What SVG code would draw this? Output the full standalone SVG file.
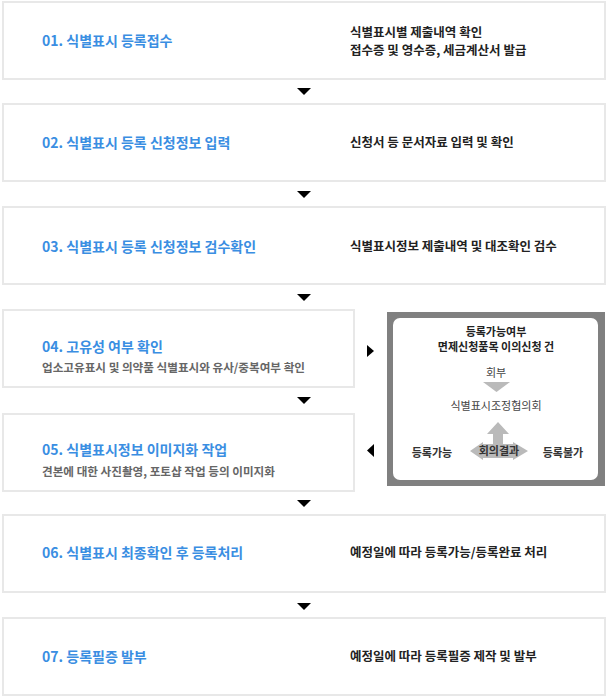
<svg xmlns="http://www.w3.org/2000/svg" width="608" height="699" viewBox="0 0 608 699">
<style>
.box{fill:#fff;stroke:#e8e8e8;stroke-width:2}
.t{font-family:"Noto Sans CJK KR","Liberation Sans",sans-serif;font-size:14px;font-weight:700;fill:#3a8ee2}
.d{font-family:"Noto Sans CJK KR","Liberation Sans",sans-serif;font-size:12.5px;font-weight:700;fill:#222}
.s{font-family:"Noto Sans CJK KR","Liberation Sans",sans-serif;font-size:11.6px;font-weight:700;fill:#666}
.p{font-family:"Noto Sans CJK KR","Liberation Sans",sans-serif;font-size:11px;font-weight:700;fill:#222;text-anchor:middle}
.pg{font-family:"Noto Sans CJK KR","Liberation Sans",sans-serif;font-size:11px;font-weight:400;fill:#444;text-anchor:middle}
.arr{fill:#000}
.ga{fill:#bababa}
</style>
<rect width="608" height="699" fill="#fff"/>
<g id="step1"><rect class="box" x="3" y="2" width="602" height="77"/><text class="t" x="42" y="46">01. 식별표시 등록접수</text><text class="d" x="350" y="37">식별표시별 제출내역 확인</text><text class="d" x="350" y="54.5">접수증 및 영수증, 세금계산서 발급</text></g>
<g id="step2"><rect class="box" x="3" y="104" width="602" height="77"/><text class="t" x="42" y="148">02. 식별표시 등록 신청정보 입력</text><text class="d" x="350" y="147">신청서 등 문서자료 입력 및 확인</text></g>
<g id="step3"><rect class="box" x="3" y="207" width="602" height="77"/><text class="t" x="42" y="252">03. 식별표시 등록 신청정보 검수확인</text><text class="d" x="350" y="251">식별표시정보 제출내역 및 대조확인 검수</text></g>
<g id="step4"><rect class="box" x="3" y="310" width="351" height="77"/><text class="t" x="42" y="352">04. 고유성 여부 확인</text><text class="s" x="42" y="372">업소고유표시 및 의약품 식별표시와 유사/중복여부 확인</text></g>
<g id="step5"><rect class="box" x="3" y="414" width="351" height="77"/><text class="t" x="42" y="455">05. 식별표시정보 이미지화 작업</text><text class="s" x="42" y="476">견본에 대한 사진촬영, 포토샵 작업 등의 이미지화</text></g>
<g id="step6"><rect class="box" x="3" y="515" width="602" height="77"/><text class="t" x="42" y="558">06. 식별표시 최종확인 후 등록처리</text><text class="d" x="350" y="557">예정일에 따라 등록가능/등록완료 처리</text></g>
<g id="step7"><rect class="box" x="3" y="618" width="602" height="77"/><text class="t" x="42" y="662">07. 등록필증 발부</text><text class="d" x="350" y="661">예정일에 따라 등록필증 제작 및 발부</text></g>
<g id="panel">
<rect x="387" y="312" width="218" height="174" fill="#808080"/>
<rect x="393" y="318" width="205" height="162" rx="7" fill="#fff"/>
<text class="p" x="496" y="336">등록가능여부</text>
<text class="p" x="496" y="351">면제신청품목 이의신청 건</text>
<text class="pg" x="496" y="377">회부</text>
<polygon class="ga" points="483,382 510,382 496.5,392"/>
<text class="pg" x="496" y="410">식별표시조정협의회</text>
<path class="ga" d="M498,422 L509,434 L503,434 L503,444 L513,444 L513,442 L528,451 L513,460 L513,458 L483,458 L483,460 L470,451 L483,442 L483,444 L493,444 L493,434 L487,434 Z"/>
<text class="p" x="499" y="455" style="fill:#333">회의결과</text>
<text class="p" x="432" y="457" style="fill:#333">등록가능</text>
<text class="p" x="563" y="457" style="fill:#333">등록불가</text>
</g>
<g id="connectors">
<polygon class="arr" points="297,88 311,88 304,95"/>
<polygon class="arr" points="297,191 311,191 304,198"/>
<polygon class="arr" points="297,294 311,294 304,301"/>
<polygon class="arr" points="297,397 311,397 304,404"/>
<polygon class="arr" points="297,500 311,500 304,507"/>
<polygon class="arr" points="297,603 311,603 304,610"/>
<polygon class="arr" points="367,345 367,357 374,351"/>
<polygon class="arr" points="374,444 374,457 367,450.5"/>
</g>
</svg>
